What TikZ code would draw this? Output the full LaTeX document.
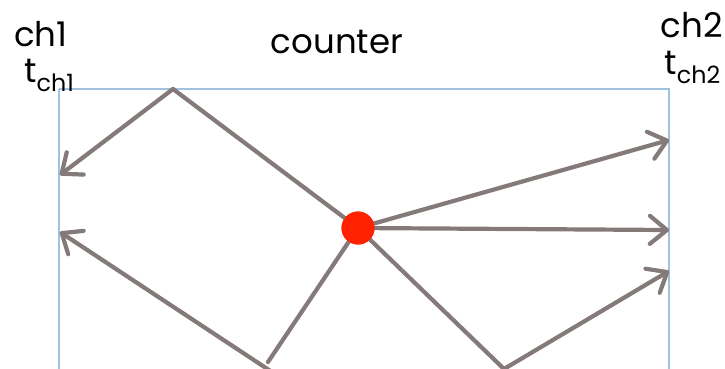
\documentclass[tikz,border=0pt]{standalone}
\usepackage{fontspec}
\setmainfont{Poppins}
\usetikzlibrary{arrows.meta}
\definecolor{conn}{RGB}{132,122,122}
\definecolor{frame}{RGB}{160,194,222}
\definecolor{dotred}{RGB}{255,34,0}
\tikzset{
  conline/.style={draw=conn, line width=4.2pt, line cap=round, line join=round},
  arr/.style={conline, -{Straight Barb[length=17pt,width=28pt,line cap=round,line join=round]}},
  lbl/.style={inner sep=0pt, font=\fontsize{34}{34}\selectfont, anchor=base west},
}
\begin{document}
\begin{tikzpicture}[x=1pt,y=-1pt]
\useasboundingbox (0,0) rectangle (725,368);
\begin{scope}
\clip (0,0) rectangle (725,368);
\draw[frame, line width=2.2pt] (59,89) -- (59,380) (59,89) -- (669,89) -- (669,380);
% named points
\coordinate (top) at (173,89);
\coordinate (l1) at (60,175);
\coordinate (l2) at (60,232);
\coordinate (r1) at (669,140);
\coordinate (r2) at (669,230);
\coordinate (r3) at (669,271);
\coordinate (bl) at (268,362);
\coordinate (blb) at (272,372);
\coordinate (br) at (504,369);
\node[circle, fill=dotred, minimum size=33pt, inner sep=0pt] (dot) at (358,228) {};
\draw[arr] (top) -- (l1);
\draw[conline] (top) -- (dot.center);
\draw[arr] (dot) -- (r1);
\draw[arr] (dot) -- (r2);
\draw[conline] (dot) -- (bl);
\draw[arr] (blb) -- (l2);
\draw[conline] (dot) -- (br);
\draw[arr] (br) -- (r3);
\node[circle, fill=dotred, minimum size=33pt, inner sep=0pt] at (dot) {};
\end{scope}
\node[lbl] (ch1) at (14,46) {ch1};
\node[lbl] (tch1) at (24,82) {t\textsubscript{ch1}};
\node[lbl, anchor=base east] (ch2) at (723,37) {ch2};
\node[lbl, anchor=base east] (tch2) at (721,74) {t\textsubscript{ch2}};
\node[lbl, anchor=base] (counter) at (337,53) {counter};
\end{tikzpicture}
\end{document}
